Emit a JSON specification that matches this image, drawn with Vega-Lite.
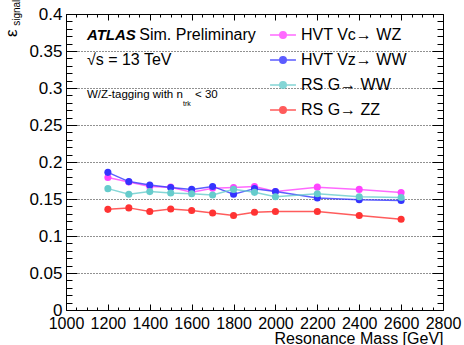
{
  "$schema": "https://vega.github.io/schema/vega-lite/v6.json",
  "width": 377,
  "height": 296,
  "autosize": {"type": "none"},
  "padding": {"left": 66, "top": 14, "right": 21, "bottom": 35},
  "background": "white",
  "config": {
    "view": {"stroke": null},
    "font": "Liberation Sans",
    "axis": {"domainColor": "black", "tickColor": "black", "labelColor": "black", "titleColor": "black", "labelFont": "Liberation Sans", "titleFont": "Liberation Sans", "labelOverlap": false, "tickWidth": 1, "tickCount": 200}
  },
  "datasets": {
    "eff": [
      {"mass": 1200, "series": "HVT Vc\u2192 WZ", "eff": 0.179},
      {"mass": 1300, "series": "HVT Vc\u2192 WZ", "eff": 0.173},
      {"mass": 1400, "series": "HVT Vc\u2192 WZ", "eff": 0.167},
      {"mass": 1500, "series": "HVT Vc\u2192 WZ", "eff": 0.166},
      {"mass": 1600, "series": "HVT Vc\u2192 WZ", "eff": 0.159},
      {"mass": 1700, "series": "HVT Vc\u2192 WZ", "eff": 0.1645},
      {"mass": 1800, "series": "HVT Vc\u2192 WZ", "eff": 0.1655},
      {"mass": 1900, "series": "HVT Vc\u2192 WZ", "eff": 0.167},
      {"mass": 2000, "series": "HVT Vc\u2192 WZ", "eff": 0.160},
      {"mass": 2200, "series": "HVT Vc\u2192 WZ", "eff": 0.166},
      {"mass": 2400, "series": "HVT Vc\u2192 WZ", "eff": 0.163},
      {"mass": 2600, "series": "HVT Vc\u2192 WZ", "eff": 0.1587},
      {"mass": 1200, "series": "HVT Vz\u2192 WW", "eff": 0.186},
      {"mass": 1300, "series": "HVT Vz\u2192 WW", "eff": 0.1735},
      {"mass": 1400, "series": "HVT Vz\u2192 WW", "eff": 0.169},
      {"mass": 1500, "series": "HVT Vz\u2192 WW", "eff": 0.1655},
      {"mass": 1600, "series": "HVT Vz\u2192 WW", "eff": 0.163},
      {"mass": 1700, "series": "HVT Vz\u2192 WW", "eff": 0.167},
      {"mass": 1800, "series": "HVT Vz\u2192 WW", "eff": 0.1565},
      {"mass": 1900, "series": "HVT Vz\u2192 WW", "eff": 0.164},
      {"mass": 2000, "series": "HVT Vz\u2192 WW", "eff": 0.160},
      {"mass": 2200, "series": "HVT Vz\u2192 WW", "eff": 0.1515},
      {"mass": 2400, "series": "HVT Vz\u2192 WW", "eff": 0.149},
      {"mass": 2600, "series": "HVT Vz\u2192 WW", "eff": 0.148},
      {"mass": 1200, "series": "RS G\u2192 WW", "eff": 0.164},
      {"mass": 1300, "series": "RS G\u2192 WW", "eff": 0.1565},
      {"mass": 1400, "series": "RS G\u2192 WW", "eff": 0.160},
      {"mass": 1500, "series": "RS G\u2192 WW", "eff": 0.158},
      {"mass": 1600, "series": "RS G\u2192 WW", "eff": 0.157},
      {"mass": 1700, "series": "RS G\u2192 WW", "eff": 0.1555},
      {"mass": 1800, "series": "RS G\u2192 WW", "eff": 0.163},
      {"mass": 1900, "series": "RS G\u2192 WW", "eff": 0.159},
      {"mass": 2000, "series": "RS G\u2192 WW", "eff": 0.153},
      {"mass": 2200, "series": "RS G\u2192 WW", "eff": 0.157},
      {"mass": 2400, "series": "RS G\u2192 WW", "eff": 0.153},
      {"mass": 2600, "series": "RS G\u2192 WW", "eff": 0.152},
      {"mass": 1200, "series": "RS G\u2192 ZZ", "eff": 0.136},
      {"mass": 1300, "series": "RS G\u2192 ZZ", "eff": 0.138},
      {"mass": 1400, "series": "RS G\u2192 ZZ", "eff": 0.133},
      {"mass": 1500, "series": "RS G\u2192 ZZ", "eff": 0.1365},
      {"mass": 1600, "series": "RS G\u2192 ZZ", "eff": 0.1345},
      {"mass": 1700, "series": "RS G\u2192 ZZ", "eff": 0.131},
      {"mass": 1800, "series": "RS G\u2192 ZZ", "eff": 0.1276},
      {"mass": 1900, "series": "RS G\u2192 ZZ", "eff": 0.132},
      {"mass": 2000, "series": "RS G\u2192 ZZ", "eff": 0.133},
      {"mass": 2200, "series": "RS G\u2192 ZZ", "eff": 0.133},
      {"mass": 2400, "series": "RS G\u2192 ZZ", "eff": 0.1276},
      {"mass": 2600, "series": "RS G\u2192 ZZ", "eff": 0.1226}
    ],
    "one": [{"k": 1}]
  },
  "data": {"name": "eff"},
  "resolve": {"scale": {"x": "independent", "y": "independent"}, "axis": {"x": "independent", "y": "independent"}},
  "layer": [
    {
      "layer": [
        {
          "mark": {"type": "line", "strokeWidth": 1.5, "opacity": 0.8},
          "encoding": {
            "x": {"field": "mass", "type": "quantitative",
              "scale": {"domain": [1000, 2800], "nice": false, "zero": false},
              "axis": {"orient": "bottom", "tickCount": 200, "values": [1000, 1050, 1100, 1150, 1200, 1250, 1300, 1350, 1400, 1450, 1500, 1550, 1600, 1650, 1700, 1750, 1800, 1850, 1900, 1950, 2000, 2050, 2100, 2150, 2200, 2250, 2300, 2350, 2400, 2450, 2500, 2550, 2600, 2650, 2700, 2750, 2800],
                "format": "d", "labelExpr": "datum.value % 200 == 0 ? datum.label : ''",
                "ticks": true, "grid": false, "labelFontSize": 16, "labelPadding": 11, "labelFlush": false, "domainWidth": 1,
                "tickSize": {"condition": {"test": "datum.value % 200 == 0", "value": -6}, "value": -3},
                "title": "Resonance Mass [GeV]", "titleFontSize": 16, "titleFontWeight": "normal", "titleAnchor": "end", "titleAlign": "right", "titleBaseline": "alphabetic", "titleX": 377, "titleY": 33}},
            "y": {"field": "eff", "type": "quantitative",
              "scale": {"domain": [0, 0.4], "nice": false, "zero": false},
              "axis": {"orient": "left", "tickCount": 200, "values": [0, 0.01, 0.02, 0.03, 0.04, 0.05, 0.06, 0.07, 0.08, 0.09, 0.1, 0.11, 0.12, 0.13, 0.14, 0.15, 0.16, 0.17, 0.18, 0.19, 0.2, 0.21, 0.22, 0.23, 0.24, 0.25, 0.26, 0.27, 0.28, 0.29, 0.3, 0.31, 0.32, 0.33, 0.34, 0.35, 0.36, 0.37, 0.38, 0.39, 0.4],
                "labelExpr": "abs(datum.value*20 - round(datum.value*20)) < 0.001 ? format(datum.value, '~g') : ''",
                "ticks": true, "grid": true, "gridColor": "#222", "gridDash": [1, 2], "gridWidth": 1,
                "gridOpacity": {"condition": {"test": "abs(datum.value*20 - round(datum.value*20)) < 0.001", "value": 1}, "value": 0},
                "tickSize": {"condition": {"test": "abs(datum.value*20 - round(datum.value*20)) < 0.001", "value": -11}, "value": -6},
                "labelFontSize": 17, "labelPadding": 15,
                "title": null}},
            "color": {"field": "series", "type": "nominal",
              "scale": {"domain": ["HVT Vc\u2192 WZ", "HVT Vz\u2192 WW", "RS G\u2192 WW", "RS G\u2192 ZZ"], "range": ["#ff44ff", "#3434ff", "#66cccc", "#ff3333"]},
              "legend": {"orient": "none", "legendX": 204, "legendY": 8, "title": null,
                "symbolType": "M-1.08,0H1.08M-0.27,0A0.27,0.27 0 1,0 0.27,0A0.27,0.27 0 1,0 -0.27,0",
                "symbolSize": 576, "symbolStrokeWidth": 1.5, "labelFontSize": 16, "labelFont": "Liberation Sans", "labelColor": "black", "labelOffset": 5, "rowPadding": 4,
                "encode": {"symbols": {"update": {"fill": {"scale": "color", "field": "value"}, "fillOpacity": {"value": 1}, "strokeOpacity": {"value": 0.6}}}}}}
          }
        },
        {
          "mark": {"type": "point", "filled": true, "size": 50, "opacity": 1},
          "encoding": {
            "x": {"field": "mass", "type": "quantitative", "scale": {"domain": [1000, 2800], "nice": false, "zero": false}},
            "y": {"field": "eff", "type": "quantitative", "scale": {"domain": [0, 0.4], "nice": false, "zero": false}},
            "color": {"field": "series", "type": "nominal"}
          }
        },
        {
          "data": {"name": "one"},
          "mark": {"type": "text", "text": "ATLAS", "fontSize": 15, "fontWeight": "bold", "fontStyle": "italic", "align": "left", "baseline": "alphabetic", "color": "black"},
          "encoding": {
            "x": {"datum": 1100, "type": "quantitative", "scale": {"domain": [1000, 2800], "nice": false, "zero": false}},
            "y": {"datum": 0.365, "type": "quantitative", "scale": {"domain": [0, 0.4], "nice": false, "zero": false}}
          }
        },
        {
          "data": {"name": "one"},
          "mark": {"type": "text", "text": "Sim. Preliminary", "fontSize": 16, "align": "left", "baseline": "alphabetic", "color": "black"},
          "encoding": {
            "x": {"datum": 1350, "type": "quantitative", "scale": {"domain": [1000, 2800], "nice": false, "zero": false}},
            "y": {"datum": 0.365, "type": "quantitative", "scale": {"domain": [0, 0.4], "nice": false, "zero": false}}
          }
        },
        {
          "data": {"name": "one"},
          "mark": {"type": "text", "text": "\u221as = 13 TeV", "fontSize": 16, "align": "left", "baseline": "alphabetic", "color": "black"},
          "encoding": {
            "x": {"datum": 1100, "type": "quantitative", "scale": {"domain": [1000, 2800], "nice": false, "zero": false}},
            "y": {"datum": 0.331, "type": "quantitative", "scale": {"domain": [0, 0.4], "nice": false, "zero": false}}
          }
        },
        {
          "data": {"name": "one"},
          "mark": {"type": "text", "text": "W/Z-tagging with n", "fontSize": 11.5, "align": "left", "baseline": "alphabetic", "color": "black"},
          "encoding": {
            "x": {"datum": 1100, "type": "quantitative", "scale": {"domain": [1000, 2800], "nice": false, "zero": false}},
            "y": {"datum": 0.2865, "type": "quantitative", "scale": {"domain": [0, 0.4], "nice": false, "zero": false}}
          }
        },
        {
          "data": {"name": "one"},
          "mark": {"type": "text", "text": "trk", "fontSize": 7, "align": "left", "baseline": "alphabetic", "color": "black"},
          "encoding": {
            "x": {"datum": 1559, "type": "quantitative", "scale": {"domain": [1000, 2800], "nice": false, "zero": false}},
            "y": {"datum": 0.2757, "type": "quantitative", "scale": {"domain": [0, 0.4], "nice": false, "zero": false}}
          }
        },
        {
          "data": {"name": "one"},
          "mark": {"type": "text", "text": "< 30", "fontSize": 11.5, "align": "left", "baseline": "alphabetic", "color": "black"},
          "encoding": {
            "x": {"datum": 1616, "type": "quantitative", "scale": {"domain": [1000, 2800], "nice": false, "zero": false}},
            "y": {"datum": 0.2865, "type": "quantitative", "scale": {"domain": [0, 0.4], "nice": false, "zero": false}}
          }
        },
        {
          "data": {"name": "one"},
          "mark": {"type": "text", "text": "\u03b5", "fontSize": 17, "angle": 270, "align": "left", "baseline": "alphabetic", "color": "black"},
          "encoding": {
            "x": {"datum": 766, "type": "quantitative", "scale": {"domain": [1000, 2800], "nice": false, "zero": false}},
            "y": {"datum": 0.369, "type": "quantitative", "scale": {"domain": [0, 0.4], "nice": false, "zero": false}}
          }
        },
        {
          "data": {"name": "one"},
          "mark": {"type": "text", "text": "signal", "fontSize": 10, "angle": 270, "align": "left", "baseline": "alphabetic", "color": "black"},
          "encoding": {
            "x": {"datum": 782, "type": "quantitative", "scale": {"domain": [1000, 2800], "nice": false, "zero": false}},
            "y": {"datum": 0.384, "type": "quantitative", "scale": {"domain": [0, 0.4], "nice": false, "zero": false}}
          }
        }
      ]
    },
    {
      "mark": {"type": "point", "opacity": 0},
      "encoding": {
        "x": {"field": "mass", "type": "quantitative", "scale": {"domain": [1000, 2800], "nice": false, "zero": false},
          "axis": {"orient": "top", "tickCount": 200, "values": [1000, 1050, 1100, 1150, 1200, 1250, 1300, 1350, 1400, 1450, 1500, 1550, 1600, 1650, 1700, 1750, 1800, 1850, 1900, 1950, 2000, 2050, 2100, 2150, 2200, 2250, 2300, 2350, 2400, 2450, 2500, 2550, 2600, 2650, 2700, 2750, 2800],
            "labels": false, "domain": true, "grid": false, "ticks": true, "title": null,
            "tickSize": {"condition": {"test": "datum.value % 200 == 0", "value": -6}, "value": -3}}},
        "y": {"field": "eff", "type": "quantitative", "scale": {"domain": [0, 0.4], "nice": false, "zero": false},
          "axis": {"orient": "right", "tickCount": 200, "values": [0, 0.01, 0.02, 0.03, 0.04, 0.05, 0.06, 0.07, 0.08, 0.09, 0.1, 0.11, 0.12, 0.13, 0.14, 0.15, 0.16, 0.17, 0.18, 0.19, 0.2, 0.21, 0.22, 0.23, 0.24, 0.25, 0.26, 0.27, 0.28, 0.29, 0.3, 0.31, 0.32, 0.33, 0.34, 0.35, 0.36, 0.37, 0.38, 0.39, 0.4],
            "labels": false, "domain": true, "grid": false, "ticks": true, "title": null,
            "tickSize": {"condition": {"test": "abs(datum.value*20 - round(datum.value*20)) < 0.001", "value": -11}, "value": -6}}}
      }
    }
  ]
}
